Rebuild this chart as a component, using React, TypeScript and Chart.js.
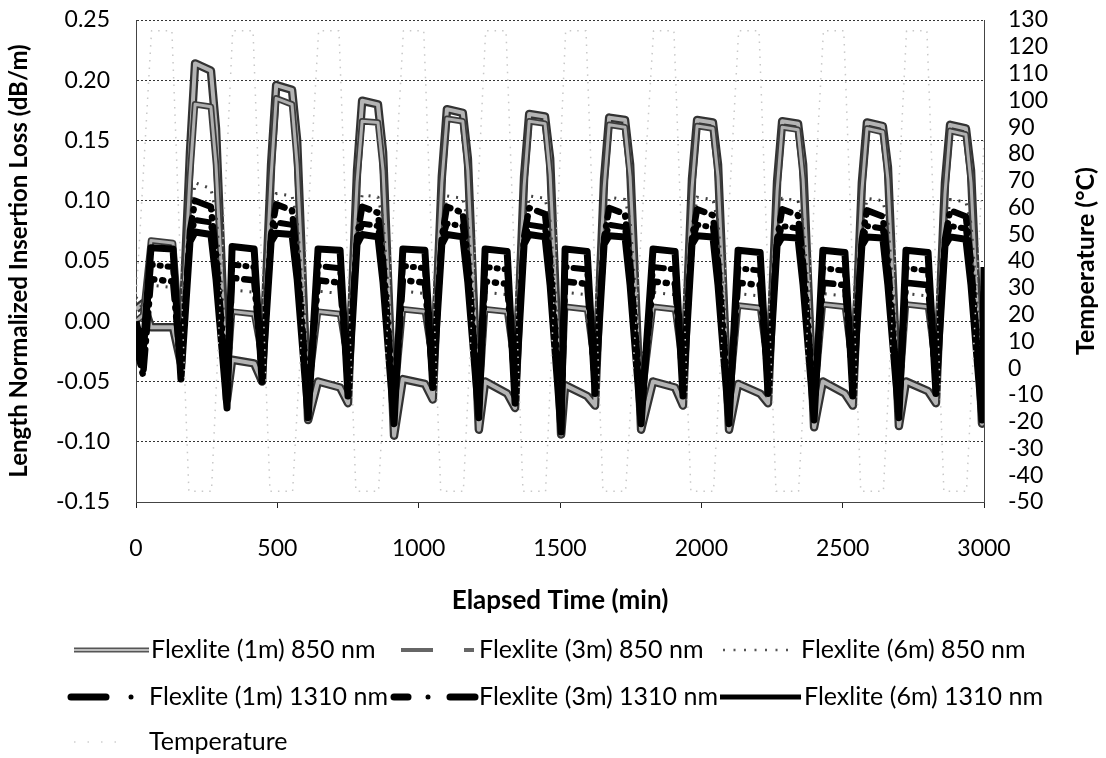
import React, { useEffect, useRef } from "react";
import { Chart, registerables } from "chart.js";
Chart.register(...registerables);

// Elapsed time breakpoints (min) shared by the insertion-loss series
const ilTimes = [0, 25,
  53, 131, 159, 191, 209, 265, 283, 322,
  340, 418, 446, 478, 496, 552, 570, 609,
  644, 722, 750, 782, 800, 856, 874, 913,
  944, 1022, 1050, 1082, 1100, 1156, 1174, 1213,
  1235, 1313, 1341, 1373, 1391, 1447, 1465, 1504,
  1518, 1596, 1624, 1656, 1674, 1730, 1748, 1787,
  1829, 1907, 1935, 1967, 1985, 2041, 2059, 2098,
  2130, 2208, 2236, 2268, 2286, 2342, 2360, 2399,
  2430, 2508, 2536, 2568, 2586, 2642, 2660, 2699,
  2724, 2802, 2830, 2862, 2880, 2936, 2954, 2993,
  3000];

const flex1m850 = [0.01, 0.015,
  -0.005, -0.005, -0.035, 0.14, 0.214, 0.208, 0.16, -0.065,
  -0.032, -0.035, -0.05, 0.13, 0.196, 0.192, 0.15, -0.082,
  -0.05, -0.055, -0.068, 0.125, 0.183, 0.18, 0.14, -0.095,
  -0.048, -0.052, -0.065, 0.12, 0.176, 0.173, 0.135, -0.09,
  -0.05, -0.06, -0.072, 0.12, 0.172, 0.17, 0.135, -0.094,
  -0.053, -0.062, -0.07, 0.118, 0.169, 0.167, 0.13, -0.09,
  -0.05, -0.055, -0.07, 0.118, 0.167, 0.165, 0.13, -0.09,
  -0.052, -0.06, -0.068, 0.116, 0.166, 0.164, 0.13, -0.088,
  -0.05, -0.06, -0.07, 0.115, 0.165, 0.162, 0.128, -0.087,
  -0.05, -0.058, -0.068, 0.115, 0.163, 0.16, 0.125, -0.085,
  -0.08];

const flex3m850 = [0.0, 0.005,
  0.067, 0.065, -0.02, 0.12, 0.18, 0.178, 0.13, -0.05,
  0.008, 0.006, -0.03, 0.12, 0.185, 0.18, 0.13, -0.06,
  0.008, 0.006, -0.035, 0.115, 0.166, 0.165, 0.125, -0.07,
  0.01, 0.008, -0.035, 0.115, 0.168, 0.166, 0.125, -0.07,
  0.01, 0.008, -0.04, 0.112, 0.166, 0.164, 0.122, -0.072,
  0.012, 0.01, -0.04, 0.11, 0.163, 0.161, 0.12, -0.07,
  0.012, 0.01, -0.04, 0.11, 0.162, 0.16, 0.12, -0.07,
  0.013, 0.011, -0.04, 0.108, 0.161, 0.159, 0.118, -0.068,
  0.014, 0.012, -0.04, 0.108, 0.16, 0.157, 0.118, -0.068,
  0.014, 0.012, -0.04, 0.106, 0.158, 0.155, 0.115, -0.066,
  -0.06];

const flex6m850 = [0.02, 0.01,
  0.03, 0.028, -0.01, 0.08, 0.115, 0.11, 0.09, -0.03,
  0.026, 0.024, -0.015, 0.075, 0.106, 0.104, 0.085, -0.035,
  0.025, 0.023, -0.018, 0.074, 0.105, 0.103, 0.084, -0.04,
  0.025, 0.023, -0.016, 0.074, 0.104, 0.102, 0.084, -0.038,
  0.024, 0.022, -0.02, 0.073, 0.104, 0.102, 0.083, -0.04,
  0.024, 0.022, -0.018, 0.073, 0.103, 0.101, 0.083, -0.04,
  0.024, 0.022, -0.018, 0.072, 0.103, 0.101, 0.082, -0.04,
  0.023, 0.021, -0.018, 0.072, 0.102, 0.1, 0.082, -0.038,
  0.023, 0.021, -0.018, 0.072, 0.102, 0.1, 0.082, -0.038,
  0.023, 0.021, -0.018, 0.071, 0.101, 0.099, 0.081, -0.037,
  -0.03];

const flex1m1310 = [-0.02, -0.045,
  0.035, 0.033, -0.04, 0.075, 0.1, 0.095, 0.055, -0.06,
  0.036, 0.034, -0.042, 0.072, 0.097, 0.092, 0.052, -0.068,
  0.034, 0.032, -0.05, 0.07, 0.095, 0.09, 0.05, -0.072,
  0.034, 0.032, -0.048, 0.07, 0.095, 0.09, 0.05, -0.07,
  0.033, 0.031, -0.055, 0.07, 0.094, 0.089, 0.05, -0.078,
  0.033, 0.031, -0.05, 0.069, 0.094, 0.089, 0.049, -0.072,
  0.033, 0.031, -0.05, 0.069, 0.093, 0.088, 0.049, -0.072,
  0.032, 0.03, -0.05, 0.068, 0.093, 0.088, 0.048, -0.07,
  0.032, 0.03, -0.05, 0.068, 0.092, 0.087, 0.048, -0.07,
  0.032, 0.03, -0.05, 0.068, 0.092, 0.087, 0.048, -0.07,
  0.03];

const flex3m1310 = [-0.01, -0.03,
  0.047, 0.045, -0.044, 0.07, 0.084, 0.082, 0.045, -0.066,
  0.047, 0.045, -0.046, 0.068, 0.082, 0.08, 0.044, -0.074,
  0.046, 0.044, -0.056, 0.067, 0.081, 0.079, 0.042, -0.078,
  0.046, 0.044, -0.052, 0.067, 0.081, 0.079, 0.042, -0.075,
  0.045, 0.043, -0.06, 0.067, 0.08, 0.078, 0.04, -0.085,
  0.045, 0.043, -0.055, 0.066, 0.08, 0.078, 0.04, -0.078,
  0.045, 0.043, -0.056, 0.066, 0.08, 0.078, 0.04, -0.078,
  0.044, 0.042, -0.055, 0.066, 0.079, 0.077, 0.04, -0.076,
  0.044, 0.042, -0.056, 0.066, 0.079, 0.077, 0.04, -0.075,
  0.044, 0.042, -0.055, 0.065, 0.079, 0.077, 0.04, -0.076,
  0.035];

const flex6m1310 = [0.0, -0.025,
  0.061, 0.06, -0.048, 0.066, 0.074, 0.072, 0.035, -0.072,
  0.062, 0.06, -0.05, 0.066, 0.073, 0.072, 0.035, -0.08,
  0.06, 0.059, -0.062, 0.064, 0.072, 0.07, 0.032, -0.085,
  0.06, 0.059, -0.055, 0.064, 0.072, 0.07, 0.032, -0.08,
  0.06, 0.058, -0.068, 0.064, 0.072, 0.07, 0.03, -0.092,
  0.06, 0.058, -0.06, 0.064, 0.071, 0.07, 0.03, -0.085,
  0.06, 0.058, -0.062, 0.064, 0.071, 0.07, 0.03, -0.085,
  0.059, 0.057, -0.06, 0.063, 0.07, 0.069, 0.03, -0.082,
  0.059, 0.057, -0.062, 0.063, 0.07, 0.069, 0.03, -0.08,
  0.059, 0.057, -0.06, 0.063, 0.07, 0.068, 0.03, -0.082,
  0.045];

// Temperature profile
const tempTimes = [0,
  55, 127, 187, 267,
  342, 414, 474, 554,
  646, 718, 778, 858,
  946, 1018, 1078, 1158,
  1237, 1309, 1369, 1449,
  1520, 1592, 1652, 1732,
  1831, 1903, 1963, 2043,
  2132, 2204, 2264, 2344,
  2432, 2504, 2564, 2644,
  2726, 2798, 2858, 2938,
  3000];
const tempValues = [25,
  126, 126, -46, -46,
  126, 126, -46, -46,
  126, 126, -46, -46,
  126, 126, -46, -46,
  126, 126, -46, -46,
  126, 126, -46, -46,
  126, 126, -46, -46,
  126, 126, -46, -46,
  126, 126, -46, -46,
  126, 126, -46, -46,
  85];

const seriesLabels = [
  "Flexlite (1m) 850 nm", "Flexlite (3m) 850 nm", "Flexlite (6m) 850 nm",
  "Flexlite (1m) 1310 nm", "Flexlite (3m) 1310 nm", "Flexlite (6m) 1310 nm",
  "Temperature",
];
const xTitle = "Elapsed Time (min)";
const yTitle = "Length Normalized Insertion Loss (dB/m)";
const y2Title = "Temperature (°C)";

const FONT = "Lato";

function pts(xs: number[], ys: number[]) {
  return xs.map((x, i) => ({ x, y: ys[i] }));
}

const legendPlugin = {
  id: "excelLegend",
  afterDraw(chart: any) {
    const ctx: CanvasRenderingContext2D = chart.ctx;
    ctx.save();
    const seg = (x1: number, x2: number, y: number, w: number, color: string, dash: number[] = [], cap: CanvasLineCap = "butt") => {
      ctx.beginPath();
      ctx.setLineDash(dash);
      ctx.lineCap = cap;
      ctx.lineWidth = w;
      ctx.strokeStyle = color;
      ctx.moveTo(x1, y);
      ctx.lineTo(x2, y);
      ctx.stroke();
    };
    const dot = (x: number, y: number, r: number, color: string) => {
      ctx.beginPath();
      ctx.setLineDash([]);
      ctx.fillStyle = color;
      ctx.arc(x, y, r, 0, Math.PI * 2);
      ctx.fill();
    };
    const r1 = 650, r2 = 697, r3 = 742;
    // row 1
    seg(74, 149, r1, 5, "#555");
    seg(74, 149, r1, 2, "#bbb");
    seg(401, 433, r1, 4, "#666");
    seg(464, 474, r1, 4, "#666");
    seg(723, 789, r1, 2.5, "#555", [2, 8.5]);
    // row 2
    seg(71, 106, r2, 7, "#000", [], "round");
    dot(131, r2, 2.5, "#000");
    seg(394, 408, r2, 7, "#000", [], "round");
    dot(428, r2, 2.5, "#000");
    seg(450, 475, r2, 7, "#000", [], "round");
    seg(720, 801, r2, 5, "#000");
    // row 3
    seg(74, 128, r3, 1.5, "#cfcfcf", [1.5, 12]);

    ctx.setLineDash([]);
    ctx.fillStyle = "#000";
    ctx.font = `25px ${FONT}`;
    ctx.textBaseline = "middle";
    ctx.textAlign = "left";
    const pos = [[151, r1], [479, r1], [801, r1], [149, r2], [479, r2], [804, r2], [149, r3]];
    seriesLabels.forEach((t, i) => ctx.fillText(t, pos[i][0], pos[i][1]));

    // right axis title, bottom-to-top
    ctx.translate(1086, 261);
    ctx.rotate(-Math.PI / 2);
    ctx.font = `bold 25px ${FONT}`;
    ctx.textAlign = "center";
    ctx.fillText(y2Title, 0, 0);
    ctx.restore();
  },
};

const noVPad = (s: any) => { s.paddingTop = 0; s.paddingBottom = 0; };

export default function App() {
  const ref = useRef<HTMLCanvasElement>(null);
  useEffect(() => {
    if (!ref.current) return;
    const base = { pointRadius: 0, tension: 0, fill: false, yAxisID: "y", borderJoinStyle: "round" as const };
    const chart = new Chart(ref.current, {
      type: "line",
      data: {
        datasets: [
          { ...base, label: seriesLabels[6], data: pts(tempTimes, tempValues), yAxisID: "y2", borderColor: "#c8c8c8", borderWidth: 1.5, borderDash: [1.5, 6], order: 0 },
          { ...base, label: seriesLabels[5], data: pts(ilTimes, flex6m1310), borderColor: "#000", borderWidth: 7, order: 1 },
          { ...base, label: seriesLabels[4], data: pts(ilTimes, flex3m1310), borderColor: "#000", borderWidth: 6, borderDash: [12, 7, 1, 7], borderCapStyle: "round", order: 2 },
          { ...base, label: seriesLabels[3], data: pts(ilTimes, flex1m1310), borderColor: "#000", borderWidth: 6.5, borderDash: [20, 8, 1, 8], borderCapStyle: "round", order: 3 },
          { ...base, label: seriesLabels[2], data: pts(ilTimes, flex6m850), borderColor: "#444", borderWidth: 3, borderDash: [2, 7], order: 4 },
          { ...base, label: seriesLabels[1], data: pts(ilTimes, flex3m850), borderColor: "#b0b0b0", borderWidth: 3, order: 5 },
          { ...base, label: seriesLabels[1], data: pts(ilTimes, flex3m850), borderColor: "#3c3c3c", borderWidth: 6.5, order: 6 },
          { ...base, label: seriesLabels[0], data: pts(ilTimes, flex1m850), borderColor: "#b4b4b4", borderWidth: 4, order: 7 },
          { ...base, label: seriesLabels[0], data: pts(ilTimes, flex1m850), borderColor: "#333", borderWidth: 8.5, order: 8 },
        ] as any,
      },
      options: {
        animation: false,
        responsive: true,
        maintainAspectRatio: false,
        devicePixelRatio: 1,
        layout: { padding: { top: 20, left: 0, right: 0, bottom: 0 } },
        plugins: { legend: { display: false }, tooltip: { enabled: false } },
        scales: {
          x: {
            type: "linear", min: 0, max: 3000,
            ticks: { stepSize: 500, color: "#000", font: { family: FONT, size: 23 }, padding: 27, maxRotation: 0, autoSkip: false, callback: (v: any) => String(v) },
            grid: { drawOnChartArea: false, drawTicks: true, tickLength: 6, color: "#222" },
            border: { color: "#444", width: 1 },
            title: { display: true, text: xTitle, color: "#000", font: { family: FONT, size: 26, weight: "bold" }, padding: { top: 0, bottom: 142 } },
            afterFit: (s: any) => { s.height = 256; },
          },
          y: {
            position: "left", min: -0.15, max: 0.25,
            ticks: { stepSize: 0.05, color: "#000", font: { family: FONT, size: 23 }, padding: 26, autoSkip: false, callback: (v: any) => Number(v).toFixed(2) },
            grid: { color: "#333", lineWidth: 1, drawTicks: false },
            border: { color: "#444", width: 1, dash: [2, 2] },
            title: { display: true, text: yTitle, color: "#000", font: { family: FONT, size: 24, weight: "bold" }, padding: { top: 5, bottom: 0 } },
            afterFit: (s: any) => { s.width = 136; noVPad(s); },
          },
          y2: {
            position: "right", min: -50, max: 130,
            ticks: { stepSize: 10, color: "#000", font: { family: FONT, size: 23 }, padding: 24, autoSkip: false },
            grid: { drawOnChartArea: false, drawTicks: false },
            border: { color: "#444", width: 1 },
            afterFit: (s: any) => { s.width = 122; noVPad(s); },
          },
        },
      } as any,
      plugins: [legendPlugin],
    });
    return () => chart.destroy();
  }, []);
  return (
    <div style={{ position: "fixed", left: 0, top: 0, width: 1106, height: 758, background: "#fff" }}>
      <canvas ref={ref} />
    </div>
  );
}
